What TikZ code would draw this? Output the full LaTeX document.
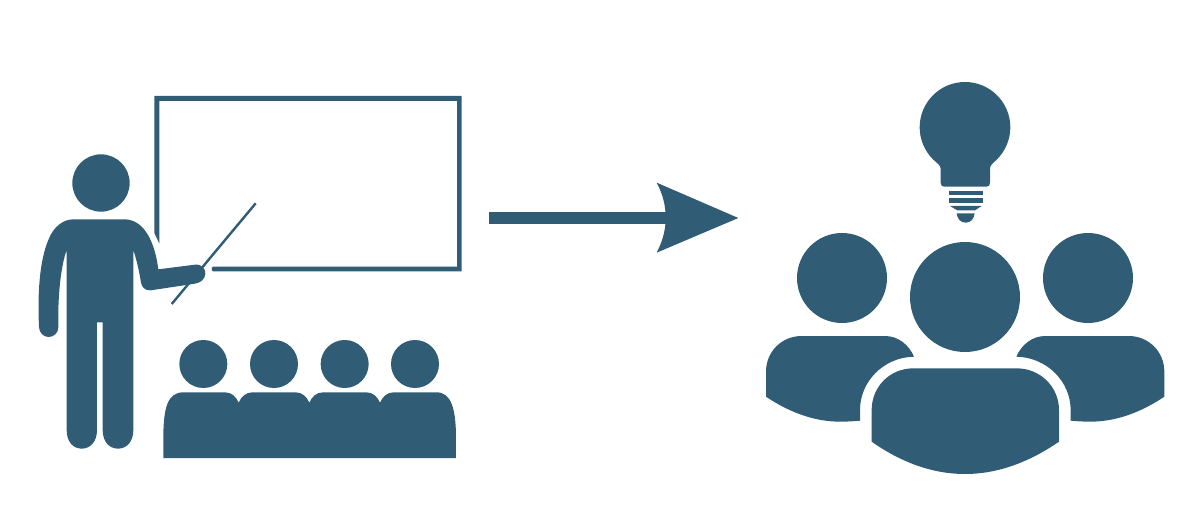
\documentclass[tikz,border=0pt]{standalone}
\definecolor{slate}{HTML}{305D75}
\tikzset{
  ink/.style={fill=slate,draw=none},
  zoomed/.style 2 args={xshift=#1pt,yshift=-#2pt,x=0.33333pt,y=-0.33333pt},
}
\begin{document}
\begin{tikzpicture}[x=1pt,y=-1pt]
\useasboundingbox (0,0) rectangle (1200,508);
% board
\fill[slate] (154.3,233) -- (154.3,95.8) -- (461.7,95.8) -- (461.7,271.3) -- (213,271.3) .. controls (211.3,271.3) and (211.3,266.7) .. (213,266.7) -- (457.2,266.7) -- (457.2,100.8) -- (159.3,100.8) -- (159.3,243.5) -- cycle;
% pointer
\draw[slate,line width=2.4pt] (255.7,203.3) -- (171.7,304);
% teacher
\begin{scope}[zoomed={20}{140}]
\fill[ink] (243,129) circle (86);
\fill[ink] (160,238) -- (315,238)
  .. controls (375,240) and (405,310) .. (415,388)
  -- (525,374) .. controls (548,372) and (557,388) .. (556,402)
  .. controls (555,418) and (542,428) .. (525,431)
  -- (392,451) .. controls (375,452) and (366,442) .. (363,428)
  .. controls (358,395) and (350,360) .. (340,330)
  -- (340,870) .. controls (340,905) and (320,926) .. (294,926)
  .. controls (268,926) and (248,905) .. (248,870)
  -- (248,547) -- (231,547) -- (231,870)
  .. controls (231,905) and (211,926) .. (185,926)
  .. controls (159,926) and (140,905) .. (140,870)
  -- (140,330) .. controls (122,380) and (113,470) .. (115,562)
  .. controls (115,580) and (100,591) .. (86,591)
  .. controls (70,591) and (58,578) .. (57,562)
  .. controls (52,450) and (60,360) .. (85,300)
  .. controls (100,260) and (130,238) .. (160,238) -- cycle;
\end{scope}
% audience
\begin{scope}[zoomed={150}{330}]
\foreach \cx in {160,372,584,795} \fill[ink] (\cx,102) circle (72);
\fill[ink] (40,384) -- (40,310) .. controls (42,240) and (50,187) .. (100,187)
  -- (225,187) .. controls (245,187) and (258,200) .. (266,218)
  .. controls (274,200) and (287,187) .. (307,187)
  -- (437,187) .. controls (457,187) and (470,200) .. (478,218)
  .. controls (486,200) and (499,187) .. (519,187)
  -- (649,187) .. controls (669,187) and (682,200) .. (690,218)
  .. controls (698,200) and (711,187) .. (731,187)
  -- (860,187) .. controls (905,187) and (916,240) .. (918,310)
  -- (918,384) -- cycle;
\end{scope}
% arrow
\begin{scope}[zoomed={480}{170}]
\fill[ink] (27,126) rectangle (565,162);
\fill[ink] (530,38) -- (775,144) -- (530,248)
  .. controls (550,210) and (557,175) .. (557,144)
  .. controls (557,110) and (550,75) .. (530,38) -- cycle;
\end{scope}
% bulb
\begin{scope}[zoomed={900}{70}]
\fill[ink] (122,338) -- (122,297)
  .. controls (122,285) and (112,281) .. (99,268)
  .. controls (73.5,242.5) and (59,208) .. (59,172)
  .. controls (59,97) and (120,36) .. (195,36)
  .. controls (270,36) and (331,97) .. (331,172)
  .. controls (331,208) and (316.5,242.5) .. (291,268)
  .. controls (278,281) and (270,285) .. (270,297)
  -- (270,338) .. controls (270,346) and (266,350) .. (260,350)
  -- (132,350) .. controls (126,350) and (122,346) .. (122,338) -- cycle;
\fill[ink] (147,362) rectangle (248,376);
\fill[ink] (147,385) rectangle (248,399);
\fill[ink] (150,408) -- (245,408) -- (225,421) -- (172,421) -- cycle;
\fill[ink] (170,430) -- (224,430) .. controls (222,447) and (212,458) .. (197,458)
  .. controls (182,458) and (172,447) .. (170,430) -- cycle;
\end{scope}
% group
\fill[ink] (842,278) circle (45);
\fill[ink] (965,297) circle (55);
\fill[ink] (1088,278) circle (45);
\begin{scope}[zoomed={750}{320}]
\fill[ink] (365,365) -- (365,270) .. controls (365,200) and (420,145) .. (490,145)
  -- (800,145) .. controls (870,145) and (927,200) .. (927,270)
  -- (927,365) .. controls (840,425) and (745,462) .. (645,462)
  .. controls (545,462) and (450,425) .. (365,365) -- cycle;
\fill[ink] (48,230) -- (48,155) .. controls (48,95) and (95,48) .. (155,48)
  -- (405,48) .. controls (445,48) and (477,75) .. (492,110)
  .. controls (400,112) and (330,185) .. (330,270)
  -- (330,302) .. controls (310,304) and (290,305) .. (270,305)
  .. controls (190,305) and (115,275) .. (48,230) -- cycle;
\fill[ink] (1243,230) -- (1243,155) .. controls (1243,95) and (1196,48) .. (1136,48)
  -- (886,48) .. controls (846,48) and (814,75) .. (799,110)
  .. controls (891,112) and (962,185) .. (962,270)
  -- (962,302) .. controls (982,304) and (1001,305) .. (1021,305)
  .. controls (1101,305) and (1176,275) .. (1243,230) -- cycle;
\end{scope}
\end{tikzpicture}
\end{document}
